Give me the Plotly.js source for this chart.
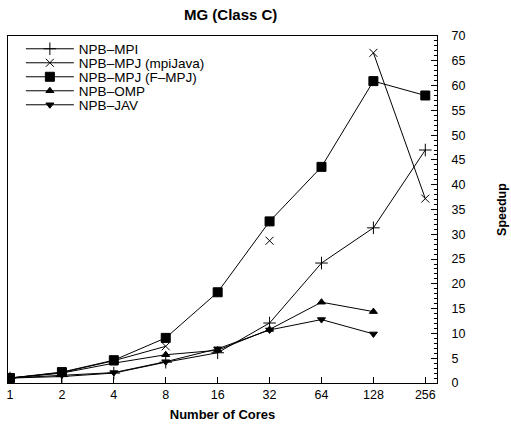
<!DOCTYPE html>
<html>
<head>
<meta charset="utf-8">
<script src="https://cdn.plot.ly/plotly-3.0.1.min.js"></script>
<style>html,body{margin:0;padding:0;background:#fff}#chart{width:511px;height:426px}</style>
</head>
<body>
<div id="chart"></div>
<script>
var cores = [1, 2, 4, 8, 16, 32, 64, 128, 256];
var tickLabels = ["1", "2", "4", "8", "16", "32", "64", "128", "256"];
var npbMpi = [1.0, 1.3, 2.0, 4.2, 6.1, 12.1, 24.2, 31.3, 47.0];
var npbMpjMpiJava = [1.0, 2.1, 4.5, 7.4, null, 28.7, null, 66.6, 37.2];
var npbMpjFmpj = [1.0, 2.2, 4.6, 9.1, 18.3, 32.6, 43.6, 60.9, 58.0];
var npbOmp = [1.0, 2.0, 4.0, 5.7, 6.6, 10.8, 16.3, 14.4];
var npbJav = [1.0, 1.6, 2.1, 4.3, 6.9, 10.7, 12.8, 9.9];
var seriesNames = ['NPB–MPI', 'NPB–MPJ (mpiJava)', 'NPB–MPJ (F–MPJ)', 'NPB–OMP', 'NPB–JAV'];
var yTicks = [0, 5, 10, 15, 20, 25, 30, 35, 40, 45, 50, 55, 60, 65, 70];

var legendIds = ['legend', 'legend2', 'legend3', 'legend4', 'legend5'];
function tr(i, y, sym, size) {
  return {
    x: cores.slice(0, y.length), y: y, name: seriesNames[i], type: 'scatter', mode: 'lines+markers',
    connectgaps: false, legend: legendIds[i],
    line: {color: '#000', width: 1},
    marker: {symbol: sym, size: size, color: '#000', line: {color: '#000', width: 1}}
  };
}
var data = [
  tr(0, npbMpi, 'cross-thin-open', 9),
  tr(1, npbMpjMpiJava, 'x-thin-open', 8),
  tr(2, npbMpjFmpj, 'square', 9),
  tr(3, npbOmp, 'triangle-up', 7),
  tr(4, npbJav, 'triangle-down', 7)
];
function leg(py) {
  return {x: 0.03, y: (383 - py) / 347, xanchor: 'left', yanchor: 'middle', bgcolor: 'rgba(0,0,0,0)',
    borderwidth: 0, font: {size: 13.5}, itemwidth: 48};
}
var layout = {
  width: 511, height: 426,
  margin: {l: 8, r: 74, t: 36, b: 43},
  paper_bgcolor: '#fff', plot_bgcolor: '#fff',
  font: {family: 'Liberation Sans, Arial, sans-serif', size: 12.5, color: '#000'},
  title: {text: '<b>MG (Class C)</b>', x: 0.519, xref: 'paper', xanchor: 'center', y: 0.965, yanchor: 'middle', font: {size: 15}},
  showlegend: true,
  legend: leg(49), legend2: leg(63), legend3: leg(77), legend4: leg(91), legend5: leg(105),
  xaxis: {
    type: 'log', range: [-0.0116, 2.476],
    tickvals: cores, ticktext: tickLabels,
    ticks: 'inside', ticklen: 6, tickcolor: '#000',
    showline: true, linecolor: '#000', linewidth: 1, mirror: true,
    showgrid: false, zeroline: false,
    title: {text: '<b>Number of Cores</b>', font: {size: 13}, standoff: 8}
  },
  yaxis: {
    side: 'right', range: [0, 70],
    tickvals: yTicks,
    ticks: 'inside', ticklen: 6, tickcolor: '#000',
    ticklabelstandoff: 11,
    minor: {dtick: 1, ticks: 'inside', ticklen: 3, tickcolor: '#000', showgrid: false},
    showline: true, linecolor: '#000', linewidth: 1, mirror: true,
    showgrid: false, zeroline: false,
    title: {text: '<b>Speedup</b>', font: {size: 12.5}, standoff: 32}
  }
};
Plotly.newPlot('chart', data, layout, {displayModeBar: false, staticPlot: true});
</script>
</body>
</html>
